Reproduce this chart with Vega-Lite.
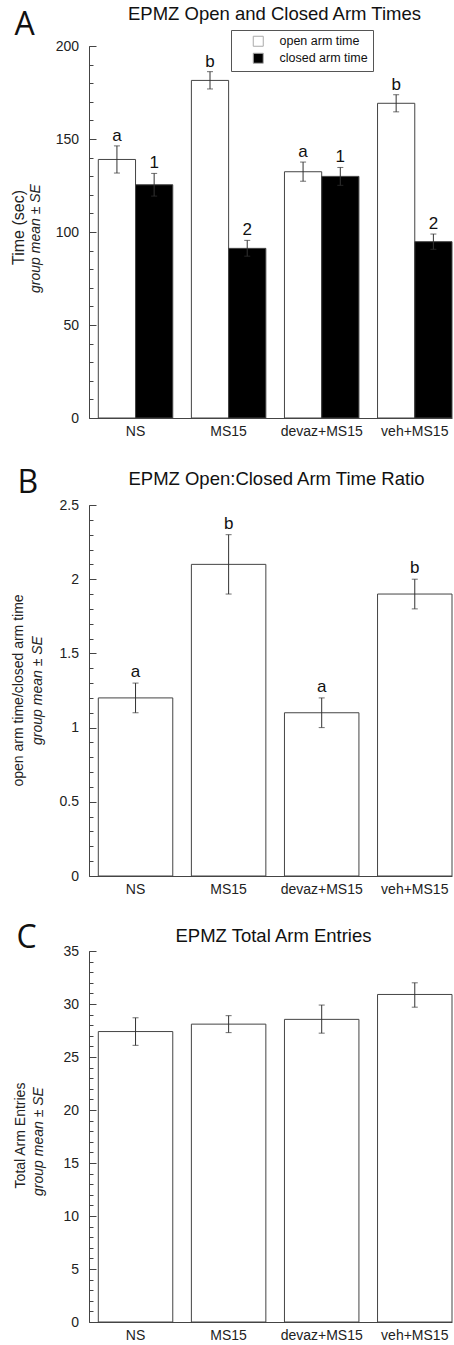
{
  "$schema": "https://vega.github.io/schema/vega-lite/v6.json",
  "padding": {"left": 10, "top": 5, "right": 0, "bottom": 0},
  "bounds": "flush",
  "spacing": 75,
  "datasets": {
    "times": [
      {"group": "NS", "arm": "open arm time", "value": 139, "lo": 131.7, "hi": 146.3, "sig": "a"},
      {"group": "NS", "arm": "closed arm time", "value": 125.4, "lo": 119.3, "hi": 131.5, "sig": "1"},
      {"group": "MS15", "arm": "open arm time", "value": 181.5, "lo": 176.9, "hi": 186.2, "sig": "b"},
      {"group": "MS15", "arm": "closed arm time", "value": 91.2, "lo": 87, "hi": 95.5, "sig": "2"},
      {"group": "devaz+MS15", "arm": "open arm time", "value": 132.4, "lo": 127.3, "hi": 137.6, "sig": "a"},
      {"group": "devaz+MS15", "arm": "closed arm time", "value": 129.9, "lo": 125.1, "hi": 134.7, "sig": "1"},
      {"group": "veh+MS15", "arm": "open arm time", "value": 169.2, "lo": 164.6, "hi": 173.8, "sig": "b"},
      {"group": "veh+MS15", "arm": "closed arm time", "value": 94.8, "lo": 90.7, "hi": 98.9, "sig": "2"}
    ],
    "ratio": [
      {"group": "NS", "value": 1.2, "lo": 1.1, "hi": 1.3, "sig": "a"},
      {"group": "MS15", "value": 2.1, "lo": 1.9, "hi": 2.3, "sig": "b"},
      {"group": "devaz+MS15", "value": 1.1, "lo": 1.0, "hi": 1.2, "sig": "a"},
      {"group": "veh+MS15", "value": 1.9, "lo": 1.8, "hi": 2.0, "sig": "b"}
    ],
    "entries": [
      {"group": "NS", "value": 27.4, "lo": 26.1, "hi": 28.7},
      {"group": "MS15", "value": 28.1, "lo": 27.3, "hi": 28.9},
      {"group": "devaz+MS15", "value": 28.55, "lo": 27.25, "hi": 29.9},
      {"group": "veh+MS15", "value": 30.9, "lo": 29.7, "hi": 32.0}
    ]
  },
  "vconcat": [
    {
      "width": 363,
      "height": 372,
      "title": {"text": "EPMZ Open and Closed Arm Times", "frame": "group", "anchor": "middle", "dx": 4, "baseline": "alphabetic", "offset": -30.5, "fontSize": 18.5, "fontWeight": "normal", "font": "Liberation Sans", "color": "#111"},
      "data": {"name": "times"},
      "encoding": {
        "x": {
          "field": "group", "type": "nominal",
          "sort": ["NS", "MS15", "devaz+MS15", "veh+MS15"],
          "scale": {"paddingInner": 0.2, "paddingOuter": 0.05, "align": 1},
          "axis": {"orient": "bottom", "labelAngle": 0, "ticks": false, "labelPadding": 6.5, "labelFontSize": 14,
                   "title": "A", "titleX": -75, "titleY": -384, "titleAngle": 0, "titleAlign": "left", "titleBaseline": "alphabetic",
                   "titleFont": "Open Sans", "titleFontSize": 32, "titleColor": "#111"}
        },
        "xOffset": {"field": "arm", "type": "nominal", "sort": ["open arm time", "closed arm time"], "scale": {"paddingInner": 0, "paddingOuter": 0}}
      },
      "layer": [
        {
          "mark": {"type": "bar", "stroke": "#444", "strokeWidth": 1},
          "encoding": {
            "y": {"field": "value", "type": "quantitative", "scale": {"domain": [0, 200], "nice": false},
                  "axis": {"orient": "left", "values": [0, 50, 100, 150, 200], "tickSize": -7, "labelPadding": 17.5, "labelFontSize": 14,
                           "title": "group mean ± SE", "titleFontStyle": "italic", "titleFontSize": 14, "titleX": -53.5, "titleY": 192, "titleAngle": -90, "titleBaseline": "middle", "titleAlign": "center"}},
            "fill": {"field": "arm", "type": "nominal", "scale": {"domain": ["open arm time", "closed arm time"], "range": ["white", "black"]},
                     "legend": {"orient": "none", "legendX": 142, "legendY": -16, "title": null, "symbolType": "square", "symbolSize": 100,
                                "symbolStrokeColor": "#aaa", "symbolStrokeWidth": 1, "symbolOffset": 16, "labelOffset": 15, "labelFontSize": 12.5,
                                "labelFont": "Liberation Sans", "labelColor": "#111", "strokeColor": "#555", "padding": 5, "rowPadding": 2}}
          }
        },
        {
          "mark": {"type": "rule", "color": "#333", "strokeWidth": 1},
          "encoding": {
            "y": {"field": "lo", "type": "quantitative", "scale": {"domain": [0, 200], "nice": false},
                  "axis": {"orient": "left", "values": [0, 10, 20, 30, 40, 50, 60, 70, 80, 90, 100, 110, 120, 130, 140, 150, 160, 170, 180, 190, 200],
                           "tickSize": -4, "labels": false, "domain": false,
                           "title": "Time (sec)", "titleFontSize": 16, "titleX": -70.7, "titleY": 181, "titleAngle": -90, "titleBaseline": "middle", "titleAlign": "center"}},
            "y2": {"field": "hi"}
          }
        },
        {
          "mark": {"type": "tick", "orient": "horizontal", "size": 6, "thickness": 1, "color": "#333"},
          "encoding": {"y": {"field": "hi", "type": "quantitative", "axis": null}}
        },
        {
          "mark": {"type": "tick", "orient": "horizontal", "size": 6, "thickness": 1, "color": "#333"},
          "encoding": {"y": {"field": "lo", "type": "quantitative", "axis": null}}
        },
        {
          "mark": {"type": "text", "dy": -5, "baseline": "alphabetic", "fontSize": 17, "font": "Liberation Sans", "color": "#111"},
          "encoding": {"y": {"field": "hi", "type": "quantitative", "axis": null}, "text": {"field": "sig"}}
        }
      ],
      "resolve": {"axis": {"y": "independent"}}
    },
    {
      "width": 363,
      "height": 383,
      "title": {"text": "EPMZ Open:Closed Arm Time Ratio", "frame": "group", "anchor": "middle", "dx": 6, "baseline": "alphabetic", "offset": -37.5, "fontSize": 18.5, "fontWeight": "normal", "font": "Liberation Sans", "color": "#111"},
      "data": {"name": "ratio"},
      "encoding": {
        "x": {
          "field": "group", "type": "nominal",
          "sort": ["NS", "MS15", "devaz+MS15", "veh+MS15"],
          "scale": {"paddingInner": 0.2, "paddingOuter": 0.05, "align": 1},
          "axis": {"orient": "bottom", "labelAngle": 0, "ticks": false, "labelPadding": 6.5, "labelFontSize": 14,
                   "title": "B", "titleX": -72, "titleY": -383.7, "titleAngle": 0, "titleAlign": "left", "titleBaseline": "alphabetic",
                   "titleFont": "Open Sans", "titleFontSize": 32, "titleColor": "#111"}
        }
      },
      "layer": [
        {
          "mark": {"type": "bar", "stroke": "#444", "strokeWidth": 1, "fill": "white"},
          "encoding": {
            "y": {"field": "value", "type": "quantitative", "scale": {"domain": [0, 2.5], "nice": false, "range": [383, 12]},
                  "axis": {"orient": "left", "values": [0, 0.5, 1, 1.5, 2, 2.5], "format": "~g", "tickSize": -7, "labelPadding": 17.5, "labelFontSize": 14,
                           "title": "group mean ± SE", "titleFontStyle": "italic", "titleFontSize": 14, "titleX": -52, "titleY": 197, "titleAngle": -90, "titleBaseline": "middle", "titleAlign": "center"}}
          }
        },
        {
          "mark": {"type": "rule", "color": "#333", "strokeWidth": 1},
          "encoding": {
            "y": {"field": "lo", "type": "quantitative", "scale": {"domain": [0, 2.5], "nice": false, "range": [383, 12]},
                  "axis": {"orient": "left", "values": [0, 0.1, 0.2, 0.3, 0.4, 0.5, 0.6, 0.7, 0.8, 0.9, 1, 1.1, 1.2, 1.3, 1.4, 1.5, 1.6, 1.7, 1.8, 1.9, 2, 2.1, 2.2, 2.3, 2.4, 2.5],
                           "tickSize": -4, "labels": false, "domain": false,
                           "title": "open arm time/closed arm time", "titleFontSize": 14, "titleX": -70.7, "titleY": 197, "titleAngle": -90, "titleBaseline": "middle", "titleAlign": "center"}},
            "y2": {"field": "hi"}
          }
        },
        {
          "mark": {"type": "tick", "orient": "horizontal", "size": 6, "thickness": 1, "color": "#333"},
          "encoding": {"y": {"field": "hi", "type": "quantitative", "axis": null}}
        },
        {
          "mark": {"type": "tick", "orient": "horizontal", "size": 6, "thickness": 1, "color": "#333"},
          "encoding": {"y": {"field": "lo", "type": "quantitative", "axis": null}}
        },
        {
          "mark": {"type": "text", "dy": -6, "baseline": "alphabetic", "fontSize": 17, "font": "Liberation Sans", "color": "#111"},
          "encoding": {"y": {"field": "hi", "type": "quantitative", "axis": null}, "text": {"field": "sig"}}
        }
      ],
      "resolve": {"axis": {"y": "independent"}}
    },
    {
      "width": 363,
      "height": 371,
      "title": {"text": "EPMZ Total Arm Entries", "frame": "group", "anchor": "middle", "dx": 3, "baseline": "alphabetic", "offset": -39.5, "fontSize": 18.5, "fontWeight": "normal", "font": "Liberation Sans", "color": "#111"},
      "data": {"name": "entries"},
      "encoding": {
        "x": {
          "field": "group", "type": "nominal",
          "sort": ["NS", "MS15", "devaz+MS15", "veh+MS15"],
          "scale": {"paddingInner": 0.2, "paddingOuter": 0.05, "align": 1},
          "axis": {"orient": "bottom", "labelAngle": 0, "ticks": false, "labelPadding": 6.5, "labelFontSize": 14,
                   "title": "C", "titleX": -73, "titleY": -374.7, "titleAngle": 0, "titleAlign": "left", "titleBaseline": "alphabetic",
                   "titleFont": "Open Sans", "titleFontSize": 32, "titleColor": "#111"}
        }
      },
      "layer": [
        {
          "mark": {"type": "bar", "stroke": "#444", "strokeWidth": 1, "fill": "white"},
          "encoding": {
            "y": {"field": "value", "type": "quantitative", "scale": {"domain": [0, 35], "nice": false},
                  "axis": {"orient": "left", "values": [0, 5, 10, 15, 20, 25, 30, 35], "tickSize": -7, "labelPadding": 17.5, "labelFontSize": 14,
                           "title": "group mean ± SE", "titleFontStyle": "italic", "titleFontSize": 14, "titleX": -51, "titleY": 190, "titleAngle": -90, "titleBaseline": "middle", "titleAlign": "center"}}
          }
        },
        {
          "mark": {"type": "rule", "color": "#333", "strokeWidth": 1},
          "encoding": {
            "y": {"field": "lo", "type": "quantitative", "scale": {"domain": [0, 35], "nice": false},
                  "axis": {"orient": "left", "values": [0, 1, 2, 3, 4, 5, 6, 7, 8, 9, 10, 11, 12, 13, 14, 15, 16, 17, 18, 19, 20, 21, 22, 23, 24, 25, 26, 27, 28, 29, 30, 31, 32, 33, 34, 35],
                           "tickSize": -4, "labels": false, "domain": false,
                           "title": "Total Arm Entries", "titleFontSize": 14, "titleX": -69, "titleY": 184, "titleAngle": -90, "titleBaseline": "middle", "titleAlign": "center"}},
            "y2": {"field": "hi"}
          }
        },
        {
          "mark": {"type": "tick", "orient": "horizontal", "size": 6, "thickness": 1, "color": "#333"},
          "encoding": {"y": {"field": "hi", "type": "quantitative", "axis": null}}
        },
        {
          "mark": {"type": "tick", "orient": "horizontal", "size": 6, "thickness": 1, "color": "#333"},
          "encoding": {"y": {"field": "lo", "type": "quantitative", "axis": null}}
        }
      ],
      "resolve": {"axis": {"y": "independent"}}
    }
  ],
  "config": {
    "font": "Liberation Sans",
    "view": {"stroke": null},
    "axis": {"grid": false, "domainColor": "#444", "tickColor": "#444", "labelColor": "#222", "titleColor": "#222",
             "titleFontWeight": "normal", "labelFont": "Liberation Sans", "titleFont": "Liberation Sans"}
  }
}
